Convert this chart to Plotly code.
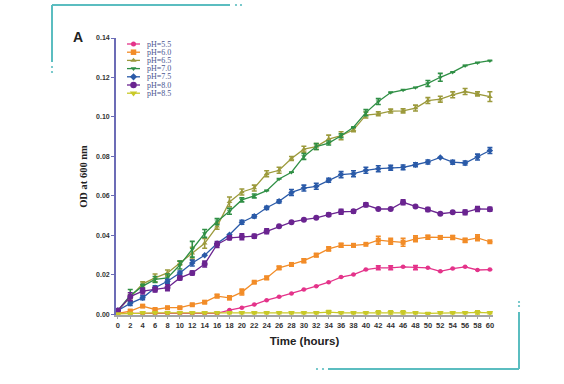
import plotly.graph_objects as go

hours = list(range(0, 62, 2))
labels = ["pH=5.5", "pH=6.0", "pH=6.5", "pH=7.0", "pH=7.5", "pH=8.0", "pH=8.5"]

ph55 = [0.0005, 0.0005, 0.0005, 0.0005, 0.0005, 0.0005, 0.0005, 0.0005, 0.0005, 0.0022, 0.0034,
        0.005, 0.0072, 0.0089, 0.0106, 0.0126, 0.0143, 0.0163, 0.0189, 0.0202, 0.0227,
        0.0236, 0.0236, 0.0241, 0.0237, 0.0236, 0.0218, 0.0232, 0.0241, 0.0225, 0.0227]
ph60 = [0.0005, 0.0017, 0.0042, 0.0025, 0.0034, 0.0034, 0.0049, 0.0062, 0.0093, 0.0084, 0.0113,
        0.0163, 0.0185, 0.0236, 0.0253, 0.0272, 0.0300, 0.0332, 0.0350, 0.0350, 0.0355,
        0.0376, 0.0370, 0.0365, 0.0383, 0.0391, 0.0390, 0.0390, 0.0375, 0.0388, 0.0368]
ph65 = [0.002, 0.009, 0.0155, 0.0185, 0.021, 0.026, 0.031, 0.036, 0.0446, 0.057, 0.062,
        0.064, 0.0713, 0.073, 0.079, 0.0837, 0.085, 0.0888, 0.0905, 0.0935, 0.101,
        0.1016, 0.1030, 0.1031, 0.1045, 0.1083, 0.109, 0.1112, 0.1129, 0.1117, 0.1103]
ph70 = [0.002, 0.0096, 0.0143, 0.0177, 0.0185, 0.025, 0.033, 0.041, 0.047, 0.0522, 0.058,
        0.060, 0.0627, 0.0686, 0.072, 0.080, 0.085, 0.0868, 0.0905, 0.0948, 0.1022,
        0.1078, 0.1124, 0.1137, 0.1149, 0.117, 0.1201, 0.1227, 0.126, 0.1275, 0.1285]
ph75 = [0.002, 0.0056, 0.0084, 0.0135, 0.0168, 0.021, 0.026, 0.030, 0.0359, 0.0404, 0.0467,
        0.0497, 0.054, 0.0573, 0.0618, 0.064, 0.0649, 0.0679, 0.0708, 0.0713, 0.073,
        0.0738, 0.0743, 0.0745, 0.0758, 0.0772, 0.0795, 0.0771, 0.0767, 0.0797, 0.083]
ph80 = [0.002, 0.009, 0.0118, 0.0126, 0.0135, 0.0185, 0.021, 0.0255, 0.0354, 0.0388, 0.0393,
        0.0396, 0.0421, 0.0446, 0.0467, 0.048, 0.0489, 0.0505, 0.052, 0.0522, 0.0555,
        0.0534, 0.0534, 0.0568, 0.0547, 0.0531, 0.051, 0.0517, 0.0517, 0.0534, 0.0533]
ph85 = [0.0003, 0.0005, 0.0008, 0.0008, 0.0008, 0.0008, 0.0008, 0.0008, 0.0008, 0.0008, 0.0008,
        0.0008, 0.0008, 0.0008, 0.0008, 0.0008, 0.0008, 0.0012, 0.0008, 0.0008, 0.0008,
        0.001, 0.001, 0.001, 0.0008, 0.0005, 0.0008, 0.0008, 0.0008, 0.001, 0.0008]

err55 = [0, 0, 0, 0, 0, 0, 0, 0, 0, 0, 0, 0, 0, 0, 0, 0, 0, 0, 0, 0, 0,
         0.001, 0.001, 0, 0.001, 0, 0, 0, 0, 0, 0]
err60 = [0, 0.0005, 0.0005, 0.0005, 0.0005, 0.0005, 0.0005, 0.0006, 0.0008, 0.001, 0.0015,
         0.0005, 0.0008, 0.0008, 0.0008, 0.001, 0.0008, 0.001, 0.001, 0.0008, 0,
         0.002, 0.0015, 0.002, 0.0015, 0.001, 0.0008, 0.001, 0.001, 0.0015, 0]
err65 = [0, 0.001, 0.001, 0.002, 0.0015, 0.001, 0.003, 0.0025, 0.0015, 0.0025, 0.0015,
         0.0015, 0.0015, 0.0015, 0.001, 0.0015, 0.0015, 0.002, 0.002, 0.001, 0.0015,
         0.001, 0.001, 0.001, 0.0015, 0.0015, 0.0015, 0.0015, 0.0015, 0.001, 0.0025]
err70 = [0, 0.003, 0.001, 0.0015, 0.002, 0.002, 0.004, 0.002, 0.0015, 0.0015, 0.001,
         0.001, 0, 0, 0, 0.0015, 0.0015, 0.001, 0.001, 0, 0.0015,
         0.0015, 0, 0, 0, 0.0015, 0.002, 0, 0, 0, 0]
err75 = [0, 0.001, 0.001, 0.001, 0.001, 0.001, 0.0015, 0, 0, 0, 0.001,
         0.0008, 0.0008, 0.0008, 0.0015, 0.0015, 0.0015, 0.001, 0.0015, 0.0015, 0.0015,
         0.0015, 0.0012, 0.0012, 0.001, 0.001, 0, 0.001, 0.001, 0.0015, 0.0015]
err80 = [0, 0.002, 0.0015, 0.0012, 0.0015, 0.001, 0.001, 0.0015, 0.0015, 0.001, 0.0015,
         0.001, 0.0012, 0, 0, 0, 0, 0.0008, 0.0012, 0.0008, 0.001,
         0, 0, 0.0012, 0, 0.001, 0, 0, 0.0012, 0.0012, 0.001]
err85 = [0, 0.0005, 0.0005, 0.0005, 0.0005, 0.0005, 0.0005, 0.0005, 0.0005, 0.0005, 0.0005,
         0.0005, 0.0005, 0.0005, 0.0005, 0.0005, 0.0005, 0.0008, 0.0005, 0.0005, 0.0005,
         0.0008, 0.0008, 0.0008, 0.0005, 0.0005, 0.0005, 0.0005, 0.0005, 0.0008, 0.0005]

y_ticks = [0, 0.02, 0.04, 0.06, 0.08, 0.10, 0.12, 0.14]

series = [ph55, ph60, ph65, ph70, ph75, ph80, ph85]
errors = [err55, err60, err65, err70, err75, err80, err85]
colors = ["#e4338a", "#f28c28", "#9c9a3c", "#2f8f45", "#2a5aa8", "#6a2490", "#c9c928"]
symbols = ["circle", "square", "triangle-up", "triangle-down", "diamond", "circle", "triangle-down"]
sizes = [4.5, 5, 5, 4.5, 5, 6, 6]

# pixel frame of the plot area
L, R, T, B = 116, 493, 38, 315
W, H = 564, 384

fig = go.Figure()

for name, ys, er, c, s, sz in zip(labels, series, errors, colors, symbols, sizes):
    fig.add_trace(go.Scatter(
        x=hours, y=ys, name=name, mode="lines+markers",
        line=dict(color=c, width=1.3),
        marker=dict(color=c, symbol=s, size=sz),
        error_y=dict(type="data", array=er, visible=True, color=c, thickness=1.6, width=2.5),
        showlegend=False,
    ))

# custom compact legend on a pixel-coordinate overlay axis
for i, (name, c, s, sz) in enumerate(zip(labels, colors, symbols, sizes)):
    yy = 44 + 8.2 * i
    fig.add_trace(go.Scatter(
        x=[127, 140], y=[yy, yy], xaxis="x2", yaxis="y2",
        mode="lines", line=dict(color=c, width=1.3),
        showlegend=False, hoverinfo="skip",
    ))
    fig.add_trace(go.Scatter(
        x=[133.5], y=[yy], xaxis="x2", yaxis="y2",
        mode="markers", marker=dict(color=c, symbol=s, size=sz + 0.5),
        showlegend=False, hoverinfo="skip",
    ))
    fig.add_annotation(x=145, y=yy, xref="x2", yref="y2", text=name, showarrow=False,
                       xanchor="left", yanchor="middle",
                       font=dict(family="Liberation Serif, Times New Roman, serif", size=8, color="#4b5590"))

def px(xp):
    return (xp - L) / (R - L)

def py(yp):
    return (B - yp) / (B - T)

teal = "#5bbdc0"
shapes = []
def line(x0, y0, x1, y1):
    shapes.append(dict(type="line", xref="paper", yref="paper", x0=px(x0), y0=py(y0), x1=px(x1), y1=py(y1),
                       line=dict(color=teal, width=2)))
def dot(xc, yc, r=1.1):
    shapes.append(dict(type="circle", xref="paper", yref="paper", x0=px(xc - r), y0=py(yc - r),
                       x1=px(xc + r), y1=py(yc + r), line=dict(width=0), fillcolor=teal))

line(52, 5, 230, 5)
dot(236, 5); dot(241, 5)
line(52, 5, 52, 62)
dot(52, 67); dot(52, 72)
line(519, 312, 519, 369)
dot(519, 302); dot(519, 306)
line(328, 369, 519, 369)
dot(317, 369); dot(323, 369)

fig.add_annotation(x=px(78), y=py(37), xref="paper", yref="paper", text="<b>A</b>", showarrow=False,
                   xanchor="center", yanchor="middle",
                   font=dict(family="Liberation Sans, Arial", size=14, color="#222"))

fig.update_layout(
    width=W, height=H,
    margin=dict(l=L, r=W - R, t=T, b=H - B),
    paper_bgcolor="white", plot_bgcolor="white",
    shapes=shapes,
    xaxis=dict(
        range=[-0.3, 60.5], tickmode="array", tickvals=hours, ticktext=[f"<b>{h}</b>" for h in hours],
        showgrid=False, zeroline=False, showline=True, linecolor="#a3a3a3", linewidth=2,
        ticks="outside", ticklen=2, tickcolor="#a3a3a3",
        tickfont=dict(family="Liberation Sans, Arial", size=7.5, color="#333"),
        title=dict(text="<b>Time (hours)</b>", standoff=8,
                   font=dict(family="Liberation Sans, Arial", size=11.5, color="#222")),
    ),
    yaxis=dict(
        range=[-0.0003, 0.14], tickmode="array", tickvals=y_ticks,
        ticktext=[f"<b>{v:.2f}</b>" for v in y_ticks],
        showgrid=False, zeroline=False, showline=True, linecolor="#6c6cb6", linewidth=1.8,
        ticks="outside", ticklen=3, tickcolor="#6c6cb6",
        tickfont=dict(family="Liberation Sans, Arial", size=7, color="#333"),
        title=dict(text="<b>OD at 600 nm</b>", standoff=6,
                   font=dict(family="Liberation Serif, Times New Roman, serif", size=10.5, color="#222")),
    ),
    xaxis2=dict(overlaying="x", range=[L, R], visible=False),
    yaxis2=dict(overlaying="y", range=[B, T], visible=False),
)

fig.write_html("out.html")
